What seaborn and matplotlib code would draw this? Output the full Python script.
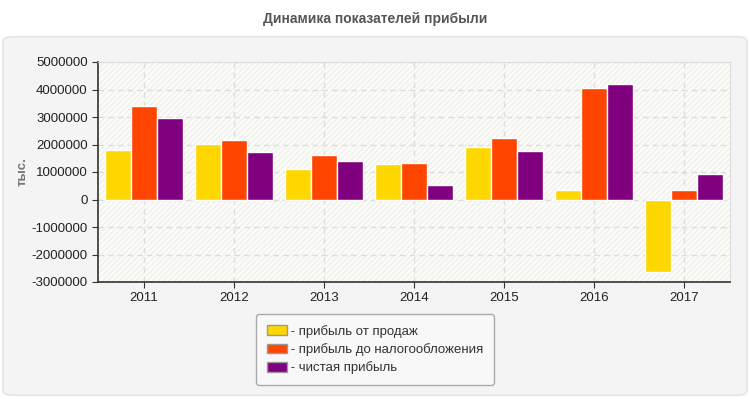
import pandas as pd
import seaborn as sns
import matplotlib.pyplot as plt
from matplotlib.patches import FancyBboxPatch, Rectangle

years = ["2011", "2012", "2013", "2014", "2015", "2016", "2017"]
series = ["прибыль от продаж", "прибыль до налогообложения", "чистая прибыль"]
sales_profit = [1810000, 2030000, 1120000, 1300000, 1920000, 330000, -2630000]
pretax_profit = [3410000, 2170000, 1630000, 1340000, 2250000, 4060000, 360000]
net_profit = [2970000, 1740000, 1410000, 540000, 1780000, 4200000, 910000]
colors = ["#ffd700", "#ff4500", "#800080"]

df = pd.DataFrame({
    "year": years * 3,
    "value": sales_profit + pretax_profit + net_profit,
    "series": [s for s in series for _ in years],
})

sns.set_style("white")
plt.rcParams["font.family"] = ["Liberation Sans", "DejaVu Sans"]

fig = plt.figure(figsize=(7.5, 4), dpi=100)
fig.patch.set_facecolor("white")

# grey rounded panel behind the chart
panel = FancyBboxPatch((0.004, 0.012), 0.992, 0.896, boxstyle="round,pad=0,rounding_size=0.012",
                       transform=fig.transFigure, facecolor="#f4f4f4", edgecolor="#e2e2e2",
                       linewidth=1, zorder=-5)
fig.patches.append(panel)

fig.text(0.5, 0.953, "Динамика показателей прибыли", ha="center", va="center",
         fontsize=10, fontweight="bold", color="#555555")

ax = fig.add_axes([0.1307, 0.295, 0.8426, 0.55])
ax.set_facecolor("#fdfdf7")
ax.add_patch(Rectangle((0, 0), 1, 1, transform=ax.transAxes, facecolor="none",
                       edgecolor="#efefef", hatch="//////", linewidth=0, zorder=0))

sns.barplot(data=df, x="year", y="value", hue="series", palette=colors, width=0.86,
            edgecolor="white", linewidth=1, saturation=1, ax=ax, zorder=3)

ax.set_ylim(-3000000, 5000000)
ax.set_yticks(range(-3000000, 5000001, 1000000))
ax.set_yticklabels([str(v) for v in range(-3000000, 5000001, 1000000)])
ax.set_xlim(-0.51, 6.51)
ax.grid(True, color="#dddddd", linestyle=(0, (4, 3)), linewidth=1, zorder=1)
ax.set_axisbelow(True)
ax.tick_params(axis="both", direction="out", length=4, color="#333333", labelsize=9.5,
               labelcolor="#222222", left=True, bottom=True)
for side in ["left", "bottom"]:
    ax.spines[side].set_color("#333333")
    ax.spines[side].set_linewidth(1.2)
for side in ["top", "right"]:
    ax.spines[side].set_color("#dddddd")
ax.set_xlabel("")
ax.set_ylabel("тыс.", fontsize=9.5, fontweight="bold", color="#777777", labelpad=2)

handles, labels = ax.get_legend_handles_labels()
ax.legend(handles, [" - " + l for l in labels], loc="center", bbox_to_anchor=(0.5, 0.126),
          bbox_transform=fig.transFigure, frameon=True, fontsize=9.5, handlelength=1.5,
          handleheight=0.75, handletextpad=0.0, labelspacing=0.4, borderpad=0.8,
          borderaxespad=0, facecolor="#f8f8f8", edgecolor="#aaaaaa", framealpha=1,
          labelcolor="#333333")
leg = ax.get_legend()
for h in leg.legend_handles:
    h.set_edgecolor("#999999")

plt.savefig("out.png", dpi=100)
